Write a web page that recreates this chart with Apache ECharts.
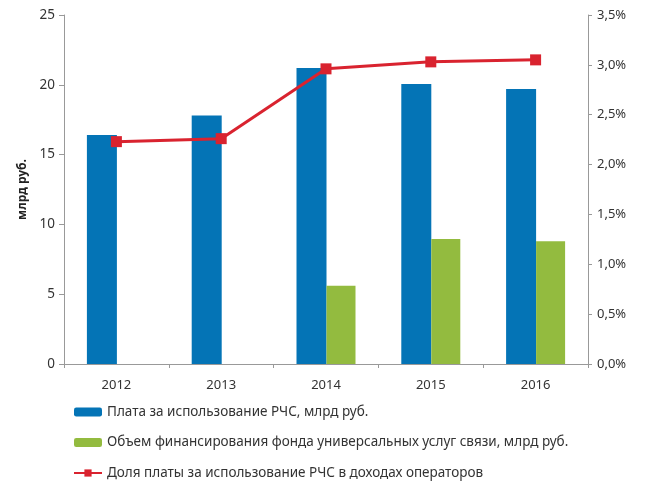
<!DOCTYPE html>
<html lang="ru" style="height: 100%">
<head>
<meta charset="utf-8">
<title>Плата за использование РЧС</title>
</head>
<body style="height: 100%; margin: 0; background: #fff">
<div id="container" style="height: 100%"></div>
<script type="text/javascript" src="https://cdn.jsdelivr.net/npm/echarts/dist/echarts.min.js"></script>
<script type="text/javascript">
var years = ['2012', '2013', '2014', '2015', '2016'];
var rfsFee = [16.4, 17.8, 21.2, 20.05, 19.7];
var usoFund = [null, null, 5.6, 8.95, 8.8];
var feeShare = [2.23, 2.26, 2.96, 3.03, 3.05];

var nameFee = 'Плата за использование РЧС, млрд руб.';
var nameFund = 'Объем финансирования фонда универсальных услуг связи, млрд руб.';
var nameShare = 'Доля платы за использование РЧС в доходах операторов';

var dom = document.getElementById('container');
var myChart = echarts.init(dom, null, { renderer: 'canvas' });

var textFont = 'Noto Sans';
var option = {
    animation: false,
    textStyle: { fontFamily: textFont },
    grid: { left: 64, right: 58, top: 15, bottom: 119, containLabel: false },
    legend: {
        orient: 'vertical',
        left: 73,
        top: 405,
        padding: 0,
        itemWidth: 28,
        itemHeight: 9,
        itemGap: 16.5,
        textStyle: { fontSize: 13.5, color: '#333', fontFamily: textFont },
        data: [nameFee, nameFund, nameShare]
    },
    xAxis: {
        type: 'category',
        data: years,
        axisLine: { lineStyle: { color: '#999' } },
        axisTick: { show: true, length: 4, alignWithLabel: false, lineStyle: { color: '#999' } },
        axisLabel: { fontSize: 13, color: '#333', margin: 15 }
    },
    yAxis: [
        {
            type: 'value',
            min: 0, max: 25, interval: 5,
            name: 'млрд руб.',
            nameLocation: 'middle',
            nameRotate: 90,
            nameGap: 35,
            nameTextStyle: { fontSize: 12, fontWeight: 'bold', color: '#222' },
            axisLine: { show: true, lineStyle: { color: '#999' } },
            axisTick: { show: true, length: 5, lineStyle: { color: '#999' } },
            axisLabel: { fontSize: 13.5, color: '#333', margin: 9 },
            splitLine: { show: false }
        },
        {
            type: 'value',
            min: 0, max: 3.5, interval: 0.5,
            position: 'right',
            axisLine: { show: true, lineStyle: { color: '#999' } },
            axisTick: { show: true, length: 4, lineStyle: { color: '#999' } },
            axisLabel: {
                fontSize: 13, color: '#333', margin: 9,
                formatter: function (v) { return v.toFixed(1).replace('.', ',') + '%'; }
            },
            splitLine: { show: false }
        }
    ],
    series: [
        {
            name: nameFee,
            type: 'bar',
            data: rfsFee,
            barWidth: 30,
            barGap: '0%',
            itemStyle: { color: '#0474b6' }
        },
        {
            name: nameFund,
            type: 'bar',
            data: usoFund,
            barWidth: 29,
            itemStyle: { color: '#93bb3f' }
        },
        {
            name: nameShare,
            type: 'line',
            yAxisIndex: 1,
            data: feeShare,
            symbol: 'rect',
            symbolSize: 11,
            lineStyle: { color: '#d9232f', width: 3 },
            itemStyle: { color: '#d9232f' }
        }
    ]
};

myChart.setOption(option);
window.addEventListener('resize', myChart.resize);
</script>
</body>
</html>
